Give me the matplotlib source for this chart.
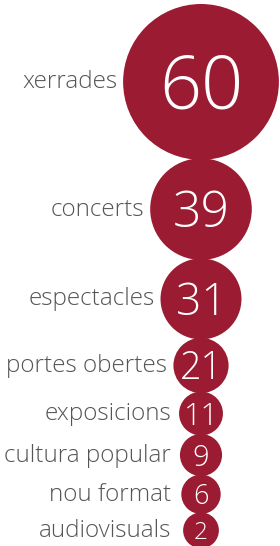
import numpy as np
import matplotlib.pyplot as plt
from matplotlib.patches import Circle

categories = ['xerrades', 'concerts', 'espectacles', 'portes obertes',
              'exposicions', 'cultura popular', 'nou format', 'audiovisuals']
values = [60, 39, 31, 21, 11, 9, 6, 2]

RED = '#9b1c32'
GREY = '#555555'
FONT = 'Open Sans'

W, H = 280, 546
fig = plt.figure(figsize=(W / 100, H / 100), dpi=100)
ax = fig.add_axes([0, 0, 1, 1])
ax.set_xlim(0, W)
ax.set_ylim(H, 0)
ax.set_aspect('equal')
ax.axis('off')

v = np.array(values, dtype=float)
# bubble radius grows with the value, with a floor so the small numbers fit
radii = np.maximum(1.29 * v + 0.5, 17 + 0.45 * v)
fsizes = np.maximum(0.68 * radii, 0.5 * v + 16.5)

cx = 201
y = 4 + radii[0]
pt = 100 / 72  # px per point
for i, (lab, val) in enumerate(zip(categories, values)):
    r = radii[i]
    if i > 0:
        y += radii[i - 1] + r - 1.5
    ax.add_patch(Circle((cx, y), r, color=RED, lw=0))
    fs = fsizes[i]
    ax.text(cx, y + 0.36 * fs * pt, str(val), color='white', fontsize=fs,
            family=FONT, fontweight='light', ha='center', va='baseline')
    lx = min(cx - r - 6, 171)
    ax.text(lx, y + 0.27 * 17.5 * pt, lab, color=GREY, fontsize=17.5,
            family=FONT, fontweight='light', ha='right', va='baseline')

fig.savefig('out.png', dpi=100)
